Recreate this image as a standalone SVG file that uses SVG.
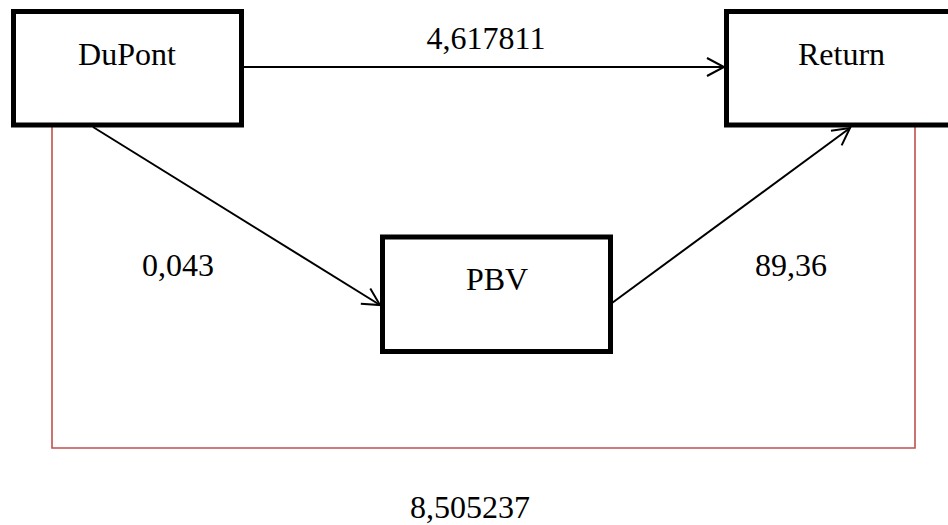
<svg xmlns="http://www.w3.org/2000/svg" width="948" height="525" viewBox="0 0 948 525">
<defs>
<style>
.box{fill:#fff;stroke:#000;stroke-width:5}
.lbl{font-size:32px;fill:#000;text-anchor:middle}
.arrow{fill:none;stroke:#000;stroke-width:2}
.red{fill:none;stroke:#c0504d;stroke-width:1.6}
</style>
<marker id="open" markerUnits="userSpaceOnUse" markerWidth="24" markerHeight="24" viewBox="-20 -12 24 24" refX="0" refY="0" orient="auto">
<path d="M-17,-9 L0,0 L-17,9" fill="none" stroke="#000" stroke-width="2"/>
</marker>
</defs>
<rect width="948" height="525" fill="#fff"/>
<g id="connectors" font-family="'Liberation Serif', 'Times New Roman', 'DejaVu Serif', serif">
<line class="arrow" x1="244" y1="67" x2="724" y2="67" marker-end="url(#open)"/>
<line class="arrow" x1="93" y1="127" x2="380" y2="305" marker-end="url(#open)"/>
<line class="arrow" x1="612" y1="303" x2="850" y2="128" marker-end="url(#open)"/>
<polyline class="red" points="52,127 52,448 915,448 915,127"/>
<text class="lbl" x="486" y="49">4,617811</text>
<text class="lbl" x="178" y="276">0,043</text>
<text class="lbl" x="791" y="276">89,36</text>
<text class="lbl" x="470" y="518">8,505237</text>
</g>
<g id="dupont" font-family="'Liberation Serif', 'Times New Roman', 'DejaVu Serif', serif">
<rect class="box" x="13.5" y="11.5" width="228" height="113.5"/>
<text class="lbl" x="127" y="65">DuPont</text>
</g>
<g id="return" font-family="'Liberation Serif', 'Times New Roman', 'DejaVu Serif', serif">
<rect class="box" x="726.5" y="11.5" width="230" height="113.5"/>
<text class="lbl" x="841.5" y="65">Return</text>
</g>
<g id="pbv" font-family="'Liberation Serif', 'Times New Roman', 'DejaVu Serif', serif">
<rect class="box" x="382.5" y="237" width="228" height="114.5"/>
<text class="lbl" x="497" y="290">PBV</text>
</g>
</svg>
